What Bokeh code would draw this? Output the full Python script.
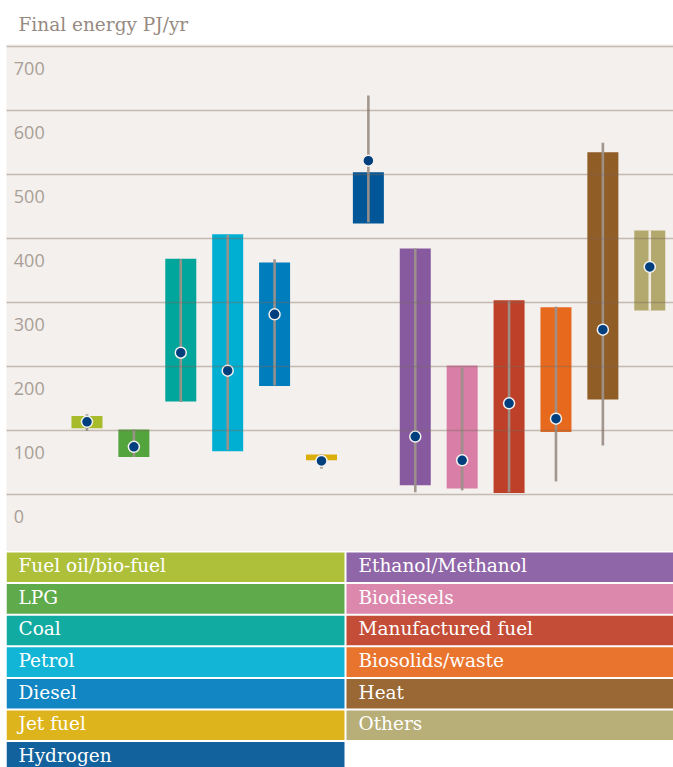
from bokeh.plotting import figure
from bokeh.models import Range1d, FixedTicker, ColumnDataSource
from bokeh.layouts import column
from bokeh.core.properties import value
from bokeh.embed import file_html
from bokeh.resources import INLINE

categories = ["Fuel oil/bio-fuel", "LPG", "Coal", "Petrol", "Diesel", "Jet fuel", "Hydrogen",
              "Ethanol/Methanol", "Biodiesels", "Manufactured fuel", "Biosolids/waste", "Heat", "Others"]
bar_top = [122, 101, 368, 406, 362, 62, 503, 384, 201, 303, 292, 534, 412]
bar_bottom = [103, 58, 145, 67, 169, 53, 423, 14, 9, 2, 97, 148, 287]
whisker_top = [125, 101, 367, 405, 367, 62, 623, 384, 198, 302, 293, 549, 412]
whisker_bottom = [99, 58, 144, 69, 170, 40, 425, 3, 6, 3, 20, 76, 287]
central = [113, 74, 221, 193, 281, 52, 521, 90, 53, 142, 118, 257, 355]
colors = ["#a8bb2b", "#53a43d", "#00a59b", "#00afd2", "#007dbd", "#dcae0b", "#005696",
          "#875aa0", "#d97ea6", "#bf4029", "#e7691e", "#915d26", "#b3a86e"]
whisker_colors = ["#9d9189"] * 12 + ["#f3efe6"]
y_ticks = [0, 100, 200, 300, 400, 500, 600, 700]
y_tick_labels = [str(t) for t in y_ticks]
title_text = "Final energy PJ/yr"

W = 673
LB = 6
FW = W - LB
xs = list(range(len(categories)))

p = figure(width=W, height=551, output_backend="svg", toolbar_location=None,
           x_range=Range1d(-1.716, 12.506), y_range=Range1d(-89.5, 702.5),
           min_border_top=44, min_border_left=LB, min_border_right=0, min_border_bottom=0)
p.background_fill_color = "#f3f0ed"
p.border_fill_color = "white"
p.outline_line_color = None
p.xaxis.visible = False
p.yaxis.visible = False
p.xgrid.visible = False
p.ygrid.ticker = FixedTicker(ticks=y_ticks)
p.ygrid.grid_line_color = "#7a6a5a"
p.ygrid.grid_line_alpha = 0.4
p.ygrid.grid_line_width = 1.6
p.ygrid.level = "annotation"

p.title.text = title_text
p.title.text_font = "DejaVu Serif"
p.title.text_font_size = "18.5px"
p.title.text_font_style = "normal"
p.title.text_color = "#968a81"
p.title.offset = 12
p.title.standoff = 19

src = ColumnDataSource(dict(x=xs, top=bar_top, bottom=bar_bottom, wt=whisker_top, wb=whisker_bottom,
                            c=central, color=colors, wcolor=whisker_colors))
p.vbar(x="x", top="top", bottom="bottom", width=0.661, fill_color="color", line_color=None, source=src)
p.segment(x0="x", x1="x", y0="wb", y1="wt", line_color="wcolor", line_width=2.6, line_alpha=0.95, source=src)
p.scatter(x="x", y="c", size=11, fill_color="#003f7d", line_color="#f4f1ee", line_width=1.5, source=src)

lab = ColumnDataSource(dict(x=[-1.56] * len(y_ticks), y=y_ticks, t=y_tick_labels))
p.text(x="x", y="y", text="t", source=lab, text_font=value("Open Sans"), text_font_size="18px",
       text_color="#aa9f97", text_align="left", text_baseline="middle", y_offset=22)

# legend panel
n_rows = 7
leg_h = 216
row_px = 31.6
rows_visible = leg_h / row_px
col_px = 340
x0 = 1 / col_px
leg = figure(width=W, height=leg_h, output_backend="svg", toolbar_location=None,
             x_range=Range1d(x0, x0 + FW / col_px), y_range=Range1d(rows_visible, 0),
             min_border=0, min_border_left=LB)
leg.background_fill_color = "white"
leg.border_fill_color = "white"
leg.outline_line_color = None
leg.axis.visible = False
leg.grid.visible = False
cols = [i // n_rows for i in range(len(categories))]
rows = [i % n_rows for i in range(len(categories))]
lsrc = ColumnDataSource(dict(x=[c + 0.5 for c in cols], y=[r + 0.5 for r in rows],
                             ty=[r + 0.45 for r in rows],
                             tx=[c + 13 / col_px for c in cols], name=categories, color=colors))
leg.rect(x="x", y="y", width=1 - 2 / col_px, height=1 - 2 / row_px, fill_color="color", fill_alpha=0.93,
         line_color=None, source=lsrc)
leg.text(x="tx", y="ty", text="name", source=lsrc, text_font=value("DejaVu Serif"), text_font_size="18.5px",
         text_color="white", text_align="left", text_baseline="middle")

layout = column(p, leg, spacing=0)
open("out.html", "w").write(file_html(layout, INLINE))
